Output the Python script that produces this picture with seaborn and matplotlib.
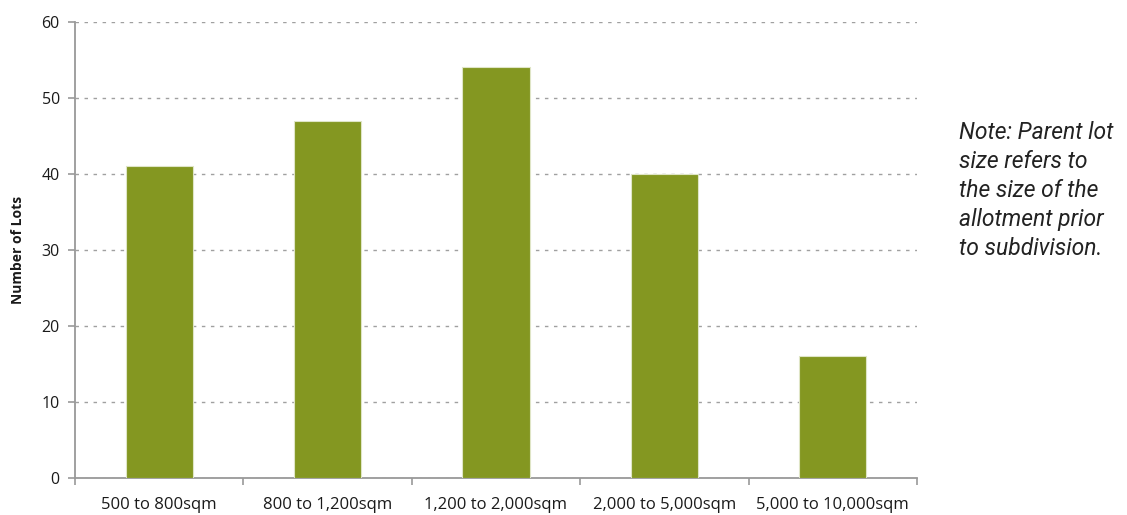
import pandas as pd
import matplotlib.pyplot as plt
import seaborn as sns
from matplotlib.ticker import FixedLocator

# data
categories = ['500 to 800sqm', '800 to 1,200sqm', '1,200 to 2,000sqm',
              '2,000 to 5,000sqm', '5,000 to 10,000sqm']
lots = [41, 47, 54, 40, 16]
y_ticks = [0, 10, 20, 30, 40, 50, 60]
note = 'Note: Parent lot\nsize refers to\nthe size of the\nallotment prior\nto subdivision.'

df = pd.DataFrame({'Parent Lot Size': categories, 'Number of Lots': lots})

sns.set_theme(style='white')
plt.rcParams['font.family'] = ['Open Sans', 'DejaVu Sans']

fig = plt.figure(figsize=(11.27, 5.15), dpi=100)
ax = fig.add_axes([0.0666, 0.0718, 0.747, 0.886])

sns.barplot(data=df, x='Parent Lot Size', y='Number of Lots', color='#849721',
            width=0.4, saturation=1, edgecolor='#dfe5c6', linewidth=0.8, ax=ax, zorder=3)

ax.set_xlim(-0.5, len(categories) - 0.5)
ax.set_ylim(0, 60)
ax.set_yticks(y_ticks)
ax.yaxis.grid(True, linestyle=(0, (2.5, 4)), color='#a0a0a0', linewidth=1.0, zorder=0)
ax.set_axisbelow(True)

# tick marks sit between categories, labels at centres
ax.xaxis.set_minor_locator(FixedLocator([i - 0.5 for i in range(len(categories) + 1)]))
ax.tick_params(axis='x', which='major', length=0, labelsize=12, pad=14, colors='#1a1a1a')
ax.tick_params(axis='x', which='minor', length=5, width=1.2, color='#999999', bottom=True, direction='out')
ax.tick_params(axis='y', which='major', length=5, width=1.2, color='#999999', left=True,
               direction='out', labelsize=11.5, labelcolor='#1a1a1a', pad=6)

ax.set_xlabel('')
ax.set_ylabel('Number of Lots', fontsize=10, fontweight='bold', labelpad=12, color='#1a1a1a')

for side in ['top', 'right']:
    ax.spines[side].set_visible(False)
for side in ['left', 'bottom']:
    ax.spines[side].set_color('#999999')
    ax.spines[side].set_linewidth(1.3)

fig.text(0.851, 0.765, note, fontsize=16.5, style='italic', color='#222222',
         family=['Roboto', 'DejaVu Sans'], va='top', ha='left', linespacing=1.33)

plt.savefig('out.png', dpi=100)
